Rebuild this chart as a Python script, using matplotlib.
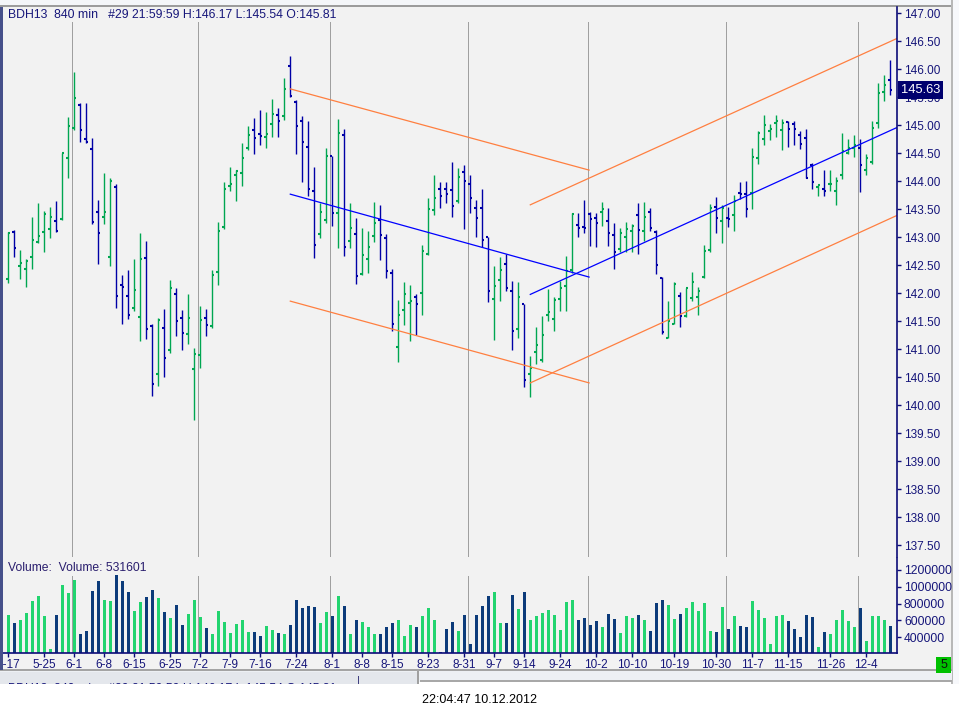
import numpy as np
import matplotlib
matplotlib.use("Agg")
import matplotlib.pyplot as plt
from matplotlib.patches import Rectangle
from matplotlib.ticker import FormatStrFormatter
from matplotlib.transforms import blended_transform_factory

plt.rcParams["font.family"] = ["Liberation Sans", "DejaVu Sans"]

# --- bar data (840 min bars, BDH13) ---
opens = [142.25, 143.09, 142.48, 142.43, 142.64, 142.91, 143.09, 143.14, 143.29, 143.32,
         144.41, 144.95, 145.37, 144.75, 144.57, 143.46, 143.37, 142.64, 143.89, 142.14,
         141.96, 141.73, 141.57, 142.63, 141.41, 140.55, 141.38, 140.98, 141.98, 141.55,
         141.27, 140.64, 140.89, 141.55, 141.41, 142.38, 143.18, 143.91, 144.11, 144.14,
         144.59, 144.91, 144.84, 144.79, 145.02, 145.18, 145.16, 146.05, 145.41, 145.07,
         144.62, 143.82, 143.05, 143.30, 144.46, 143.43, 144.82, 142.93, 143.05, 142.34,
         142.61, 143.02, 143.30, 142.99, 142.36, 141.04, 141.71, 141.82, 141.93, 142.00,
         142.71, 143.48, 143.86, 143.87, 143.84, 143.64, 144.16, 143.96, 143.53, 143.53,
         143.00, 141.89, 142.23, 142.52, 142.04, 141.36, 141.80, 140.55, 140.95, 140.80,
         141.62, 141.54, 141.89, 142.13, 142.42, 143.22, 143.18, 143.42, 143.35, 143.45,
         143.29, 143.04, 142.79, 143.00, 143.11, 143.40, 143.12, 143.46, 143.09, 142.27,
         141.21, 141.46, 141.95, 141.59, 141.91, 141.93, 142.29, 142.77, 143.54, 143.29,
         143.34, 143.39, 143.79, 143.77, 143.79, 144.41, 144.75, 144.90, 145.04, 144.92,
         145.05, 145.02, 144.82, 144.77, 144.29, 143.90, 143.86, 143.95, 143.82, 144.11,
         144.50, 144.59, 144.59, 144.20, 144.34, 145.04, 145.59, 145.81]
highs = [143.10, 143.13, 142.77, 142.62, 143.36, 143.62, 143.47, 143.54, 143.65, 144.51,
         145.15, 145.95, 145.39, 145.39, 144.77, 143.66, 144.14, 144.06, 143.95, 142.33,
         142.42, 142.61, 143.08, 142.93, 141.45, 141.55, 141.72, 142.24, 142.10, 141.70,
         141.99, 141.02, 141.77, 141.72, 142.42, 143.27, 143.98, 144.26, 144.21, 144.68,
         144.99, 145.13, 145.27, 145.24, 145.47, 145.31, 145.85, 146.23, 145.45, 145.17,
         145.08, 144.26, 143.61, 144.60, 144.46, 145.12, 144.93, 143.61, 143.35, 143.17,
         143.12, 143.63, 143.57, 143.06, 142.43, 141.88, 142.20, 142.15, 141.98, 142.86,
         143.70, 144.11, 143.98, 143.99, 144.34, 144.24, 144.29, 144.12, 143.66, 143.87,
         143.00, 142.49, 142.64, 142.70, 142.22, 142.20, 141.80, 140.88, 141.40, 141.60,
         142.08, 141.93, 142.22, 142.66, 143.44, 143.43, 143.67, 143.45, 143.43, 143.63,
         143.52, 143.26, 143.16, 143.28, 143.24, 143.61, 143.63, 143.53, 143.13, 142.29,
         141.86, 142.21, 142.02, 142.10, 142.38, 142.12, 142.87, 143.59, 143.72, 143.58,
         143.54, 143.75, 143.99, 144.01, 144.60, 144.90, 145.18, 145.02, 145.18, 145.11,
         145.08, 145.08, 144.89, 144.93, 144.32, 143.93, 144.20, 144.21, 144.08, 144.86,
         144.75, 144.82, 144.75, 144.49, 145.08, 145.75, 145.89, 146.17]
lows = [142.19, 142.64, 142.26, 142.12, 142.44, 142.89, 142.73, 142.98, 143.10, 143.30,
        144.05, 144.92, 144.71, 144.68, 143.23, 142.53, 143.24, 142.48, 141.74, 141.45,
        141.54, 141.68, 141.14, 141.18, 140.17, 140.35, 140.51, 140.94, 141.24, 140.98,
        141.10, 139.73, 140.67, 141.24, 141.38, 142.14, 143.14, 143.83, 143.64, 143.92,
        144.55, 144.49, 144.65, 144.60, 144.79, 144.79, 145.10, 145.51, 144.49, 143.99,
        143.74, 142.63, 142.98, 143.25, 143.21, 142.81, 142.67, 142.80, 142.16, 142.32,
        142.36, 142.92, 142.60, 142.27, 141.33, 140.78, 141.44, 141.14, 141.26, 141.62,
        142.68, 143.40, 143.52, 143.62, 143.37, 143.62, 143.15, 143.44, 143.01, 142.82,
        141.85, 141.17, 141.87, 142.04, 140.98, 141.21, 140.33, 140.15, 140.74, 140.77,
        141.51, 141.33, 141.69, 141.69, 142.37, 143.01, 143.08, 142.85, 142.83, 143.21,
        142.85, 142.44, 142.73, 142.74, 142.74, 142.71, 142.93, 143.12, 142.35, 141.28,
        141.21, 141.45, 141.40, 141.58, 141.87, 141.61, 142.27, 142.74, 143.08, 142.90,
        143.19, 143.12, 143.68, 143.37, 143.50, 144.30, 144.65, 144.74, 144.79, 144.55,
        144.62, 144.65, 144.57, 144.05, 143.86, 143.74, 143.73, 143.82, 143.57, 144.04,
        144.48, 144.44, 143.80, 144.11, 144.31, 144.95, 145.44, 145.54]
closes = [143.07, 142.80, 142.54, 142.57, 142.96, 143.03, 143.41, 143.37, 143.11, 144.50,
          144.98, 145.48, 144.91, 144.70, 143.27, 143.07, 143.45, 144.00, 141.96, 142.12,
          141.61, 142.05, 142.61, 141.36, 140.38, 141.53, 140.84, 142.09, 141.50, 141.29,
          141.55, 140.91, 141.52, 141.43, 142.32, 143.12, 143.86, 143.95, 144.18, 144.41,
          144.82, 144.77, 144.80, 144.84, 145.21, 145.07, 145.64, 145.52, 144.98, 144.70,
          143.86, 142.87, 143.46, 144.46, 143.44, 144.86, 142.82, 143.16, 142.30, 142.68,
          142.82, 143.25, 143.04, 142.40, 141.46, 141.61, 141.98, 141.87, 141.80, 142.75,
          143.50, 143.71, 143.73, 143.78, 143.55, 144.07, 144.00, 143.70, 143.34, 142.95,
          142.04, 142.13, 142.41, 142.10, 141.32, 141.93, 140.45, 140.66, 141.07, 141.25,
          141.66, 141.88, 142.09, 142.40, 143.41, 143.16, 143.16, 143.33, 143.25, 143.50,
          143.07, 142.73, 143.07, 143.14, 143.20, 143.13, 143.37, 143.16, 142.50, 141.30,
          141.50, 142.17, 141.59, 142.09, 142.21, 142.04, 142.76, 143.52, 143.34, 143.52,
          143.32, 143.64, 143.77, 143.50, 144.43, 144.86, 145.01, 144.94, 145.08, 145.04,
          144.93, 144.94, 144.66, 144.05, 143.98, 143.93, 143.82, 143.96, 144.00, 144.54,
          144.59, 144.65, 144.29, 144.41, 144.95, 145.58, 145.72, 145.63]
volumes = [665000, 570000, 606000, 689000, 832000, 891000, 654000, 261000, 665000, 1022000,
           927000, 1081000, 440000, 475000, 951000, 1070000, 844000, 832000, 1141000, 1070000,
           939000, 713000, 820000, 879000, 963000, 868000, 701000, 630000, 784000, 547000,
           677000, 844000, 642000, 511000, 440000, 713000, 582000, 452000, 558000, 606000,
           463000, 463000, 416000, 535000, 487000, 452000, 440000, 547000, 844000, 749000,
           772000, 761000, 570000, 701000, 654000, 891000, 772000, 440000, 606000, 582000,
           523000, 440000, 440000, 523000, 570000, 606000, 416000, 547000, 523000, 654000,
           749000, 606000, 226000, 499000, 582000, 475000, 665000, 321000, 665000, 772000,
           891000, 939000, 570000, 570000, 903000, 737000, 939000, 606000, 654000, 689000,
           725000, 665000, 487000, 820000, 844000, 606000, 630000, 547000, 594000, 523000,
           677000, 618000, 452000, 654000, 630000, 665000, 606000, 475000, 808000, 844000,
           784000, 618000, 677000, 749000, 820000, 713000, 808000, 475000, 463000, 761000,
           499000, 654000, 535000, 523000, 832000, 725000, 630000, 321000, 654000, 665000,
           594000, 499000, 404000, 665000, 642000, 285000, 463000, 440000, 606000, 725000,
           594000, 523000, 749000, 356000, 654000, 654000, 606000, 531601]

date_pos = [0, 6, 11, 16, 21, 27, 32, 37, 42, 48, 54, 59, 64, 70, 76, 81, 86, 92, 98,
            104, 111, 118, 124, 130, 137, 143]
date_labels = ["5-17", "5-25", "6-1", "6-8", "6-15", "6-25", "7-2", "7-9", "7-16", "7-24",
               "8-1", "8-8", "8-15", "8-23", "8-31", "9-7", "9-14", "9-24", "10-2",
               "10-10", "10-19", "10-30", "11-7", "11-15", "11-26", "12-4"]
month_starts = [11, 32, 54, 77, 97, 120, 142]

# trend channels drawn on the chart (bar index, price)
down_x = [47, 96.8]
down_upper = [145.65, 144.20]
down_mid = [143.77, 142.29]
down_lower = [141.86, 140.40]
up_x = [87, 148.1]
up_upper = [143.58, 146.55]
up_mid = [141.98, 144.96]
up_lower = [140.40, 143.39]

NAVY = "#0c0c78"
TXT = "#16167a"
DOTS = dict(color="#505050", lw=0.72, ls=(0, (1, 1)))

W, H = 959, 717
fig = plt.figure(figsize=(W / 100, H / 100), dpi=100)
fig.patch.set_facecolor("white")


def px_rect(x0, y0, x1, y1, color, z=-1):
    fig.add_artist(Rectangle((x0 / W, 1 - y1 / H), (x1 - x0) / W, (y1 - y0) / H,
                             transform=fig.transFigure, facecolor=color,
                             edgecolor="none", zorder=z))


def px_text(x, y, s, z=3, **kw):
    fig.text(x / W, 1 - y / H, s, zorder=z, **kw)


def px_axes(x0, y0, x1, y1):
    return fig.add_axes([x0 / W, 1 - y1 / H, (x1 - x0) / W, (y1 - y0) / H])


# window frame
px_rect(0, 0, 952, 5, "#f4f6f9")
px_rect(0, 5, 952, 7, "#9c9c9c")
px_rect(0, 7, 952, 670, "#f2f2f2")
px_rect(952, 0, 959, 684, "#f7f8fb")
px_rect(951, 0, 952.5, 684, "#b8b8b8")
px_rect(0, 669, 952, 682, "#edf0f4")
px_rect(0, 669, 952, 671, "#a4a4a4")
px_rect(420, 680, 952, 682, "#a8a8a8")
px_rect(0, 672, 419, 684, "#e4e7ec")
px_rect(417, 671, 419, 684, "#a0a0a0")
px_rect(357.5, 676, 358.5, 684, "#404080", 1.5)
header = (f"BDH13  840 min   #29 21:59:59 H:{highs[-1]:.2f} "
          f"L:{lows[-1]:.2f} O:{opens[-1]:.2f}")
px_text(8, 689.5, header, z=1, va="center", fontsize=8.8, color=TXT)
px_rect(0, 684, 959, 717, "white", 2)
px_rect(0, 7, 2.5, 670, "#46508a", 5)

idx = np.arange(len(opens))
o = np.array(opens)
c = np.array(closes)
up = c >= o
price_cols = np.where(up, "#00a651", "#0000a6")
vol_cols = np.where(up, "#22d46f", "#0c3b7a")

xl = (-0.883, 148.12)

# price panel
ax = px_axes(3, 7, 897, 557)
ax.set_facecolor("none")
ax.set_xlim(*xl)
ax.set_ylim(137.291, 147.1125)
for m in month_starts:
    ax.axvline(m - 0.35, ymax=(557 - 22) / 550, **DOTS)
ax.vlines(idx, lows, highs, colors=price_cols, lw=1.0)
ax.hlines(opens, idx - 0.34, idx, colors=price_cols, lw=1.5)
ax.hlines(closes, idx, idx + 0.34, colors=price_cols, lw=1.5)
for ys in (down_upper, down_lower):
    ax.plot(down_x, ys, color="#ff7f40", lw=0.9)
for ys in (up_upper, up_lower):
    ax.plot(up_x, ys, color="#ff7f40", lw=0.9)
ax.plot(down_x, down_mid, color="#0000ff", lw=0.9)
ax.plot(up_x, up_mid, color="#0000ff", lw=0.9)
for s in ("top", "left", "bottom"):
    ax.spines[s].set_visible(False)
ax.spines["right"].set_color(NAVY)
ax.spines["right"].set_linewidth(1.2)
ax.set_xticks([])
ax.yaxis.tick_right()
ax.set_yticks(np.arange(137.5, 147.01, 0.5))
ax.yaxis.set_major_formatter(FormatStrFormatter("%.2f"))
ax.tick_params(axis="y", colors=NAVY, labelcolor=TXT, length=3, width=1,
               pad=2, labelsize=8.5)
ax.text(1.0 + 4 / 894, closes[-1], f"{closes[-1]:.2f}",
        transform=blended_transform_factory(ax.transAxes, ax.transData),
        ha="left", va="center", fontsize=9.3, color="white", clip_on=False,
        zorder=6, bbox=dict(boxstyle="square,pad=0.2", fc="#00006e", ec="none"))

# volume panel
vx = px_axes(3, 558, 897, 653)
vx.set_facecolor("none")
vx.set_xlim(*xl)
vx.set_ylim(213400, 1342600)
for m in month_starts:
    vx.axvline(m - 0.35, ymax=(653 - 576) / 95, **DOTS)
vx.bar(idx, volumes, width=0.5, color=vol_cols)
for s in ("top", "left"):
    vx.spines[s].set_visible(False)
for s in ("right", "bottom"):
    vx.spines[s].set_color(NAVY)
    vx.spines[s].set_linewidth(1.2)
vx.yaxis.tick_right()
vol_ticks = [400000, 600000, 800000, 1000000, 1200000]
vx.set_yticks(vol_ticks)
vx.set_yticklabels([str(v) for v in vol_ticks])
vx.set_xticks(date_pos)
vx.set_xticklabels(date_labels)
vx.tick_params(axis="y", colors=NAVY, labelcolor=TXT, length=3, width=1,
               pad=2, labelsize=8.7)
vx.tick_params(axis="x", colors=NAVY, labelcolor=TXT, length=3, width=1,
               pad=1.5, labelsize=8.5)

px_text(8, 14.5, header, va="center", fontsize=8.8, color=TXT)
px_text(8, 568, f"Volume:  Volume: {volumes[-1]}", va="center", fontsize=8.7,
        color="#2a1e6e")
px_rect(936, 657, 951, 673, "#00c000", 4)
px_text(943.5, 665.5, "5", ha="center", va="center", fontsize=9, color="#101010", z=5)
px_text(479, 700, "22:04:47 10.12.2012", ha="center", va="center", fontsize=9,
        color="black", z=4)

fig.savefig("out.png", dpi=100)
